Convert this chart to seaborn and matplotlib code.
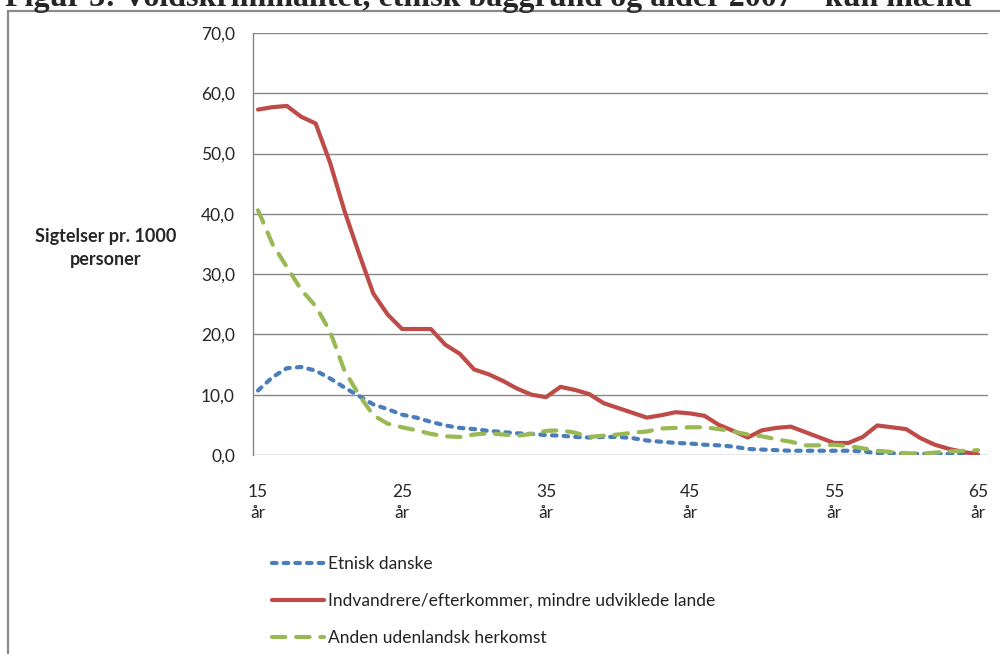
import numpy as np
import pandas as pd
import matplotlib
matplotlib.use("Agg")
import matplotlib.pyplot as plt
from matplotlib.patches import Rectangle
import seaborn as sns

# Data: charges per 1000 persons by age (15-65)
ages = list(range(15, 66))

etnisk_danske = [10.7, 12.9, 14.4, 14.6, 14.0, 12.7, 11.2, 9.8, 8.4, 7.6,
                 6.7, 6.2, 5.5, 4.9, 4.5, 4.3, 4.0, 3.8, 3.6, 3.5,
                 3.3, 3.2, 3.0, 2.9, 3.0, 3.0, 2.8, 2.4, 2.2, 2.0,
                 1.9, 1.7, 1.6, 1.4, 1.0, 0.9, 0.8, 0.7, 0.7, 0.7,
                 0.7, 0.7, 0.6, 0.3, 0.3, 0.2, 0.2, 0.2, 0.2, 0.2, 0.2]

indvandrere = [57.3, 57.7, 57.9, 56.1, 55.0, 48.5, 40.5, 33.5, 26.8, 23.3,
               20.9, 20.9, 20.9, 18.3, 16.8, 14.2, 13.4, 12.3, 11.0, 10.0,
               9.6, 11.3, 10.8, 10.1, 8.6, 7.8, 7.0, 6.2, 6.6, 7.1,
               6.9, 6.5, 5.0, 4.0, 2.9, 4.1, 4.5, 4.7, 3.8, 2.9,
               2.0, 2.0, 3.0, 4.9, 4.6, 4.3, 2.8, 1.7, 1.0, 0.5, 0.1]

anden = [40.6, 35.0, 31.2, 27.4, 24.7, 20.5, 14.0, 10.0, 6.6, 5.2,
         4.6, 4.1, 3.5, 3.1, 3.0, 3.4, 3.6, 3.4, 3.2, 3.5,
         4.0, 4.1, 3.7, 3.0, 3.2, 3.4, 3.7, 3.9, 4.4, 4.5,
         4.6, 4.6, 4.3, 3.9, 3.4, 3.1, 2.6, 2.2, 1.6, 1.6,
         1.7, 1.5, 1.1, 0.7, 0.5, 0.3, 0.2, 0.4, 0.6, 0.7, 0.8]

labels = ["Etnisk danske",
          "Indvandrere/efterkommer, mindre udviklede lande",
          "Anden udenlandsk herkomst"]
colors = ["#4A7EBB", "#BE4B48", "#98B954"]

xticks = [15, 25, 35, 45, 55, 65]
yticks = [0, 10, 20, 30, 40, 50, 60, 70]

df = pd.DataFrame({"Alder": ages, labels[0]: etnisk_danske,
                   labels[1]: indvandrere, labels[2]: anden})

sns.set_style("white")
plt.rcParams['font.family'] = ['Lato', 'DejaVu Sans']

fig = plt.figure(figsize=(10, 6.54), dpi=100)
ax = fig.add_axes([0.253, 1 - 455 / 654, 0.735, (455 - 33) / 654])

grid_col = "#868686"

# blue short dashes
sns.lineplot(data=df, x="Alder", y=labels[0], ax=ax, color=colors[0],
             linewidth=3, label=labels[0])
ax.lines[-1].set_dashes((1.1, 1.7))
ax.lines[-1].set_dash_capstyle("round")
# red solid
sns.lineplot(data=df, x="Alder", y=labels[1], ax=ax, color=colors[1],
             linewidth=3, label=labels[1])
# green long dashes
sns.lineplot(data=df, x="Alder", y=labels[2], ax=ax, color=colors[2],
             linewidth=3, label=labels[2])
ax.lines[-1].set_dashes((3.2, 2.6))
ax.lines[-1].set_dash_capstyle("round")

ax.set_xlim(14.65, 65.69)
ax.set_ylim(0, 70)
ax.set_yticks(yticks)
ax.set_yticklabels([f"{v:.1f}".replace(".", ",") for v in yticks], fontsize=12.5)
ax.set_xticks(xticks)
ax.set_xticklabels([f"{v}\når" for v in xticks], fontsize=12.5, linespacing=1.35)
ax.tick_params(axis="y", length=0, pad=13)
ax.tick_params(axis="x", length=0, pad=21)
ax.set_xlabel("")
ax.set_ylabel("")

for y in yticks:
    ax.axhline(y, color=grid_col, lw=1.0, zorder=0)
for s in ["top", "right", "bottom"]:
    ax.spines[s].set_visible(False)
ax.spines["left"].set_color(grid_col)
ax.spines["left"].set_linewidth(1.0)

fig.text(0.106, 1 - 248 / 654, "Sigtelser pr. 1000\npersoner", ha="center",
         va="center", fontsize=13, fontweight="bold", linespacing=1.45)

leg = ax.legend(loc="upper left", bbox_to_anchor=(0.272, 1 - 556 / 654),
                bbox_transform=fig.transFigure, frameon=False, fontsize=12.5,
                handlelength=3.0, handletextpad=0.25, labelspacing=1.2,
                borderpad=0, borderaxespad=0)
for t in leg.get_texts():
    t.set_color("#222222")

# outer frame of the chart area
fig.patches.append(Rectangle((8 / 1000, -0.1), 1.2, 1.1 - 11 / 654,
                             transform=fig.transFigure, fill=False,
                             edgecolor="#8a8a8a", lw=1.6))

fig.text(0.005, 1 - 6 / 654,
         "Figur 3: Voldskriminalitet, etnisk baggrund og alder 2007 \u2013 kun mænd",
         family="Liberation Serif", fontweight="bold", fontsize=23,
         va="baseline", ha="left")

fig.savefig("out.png", dpi=100)
